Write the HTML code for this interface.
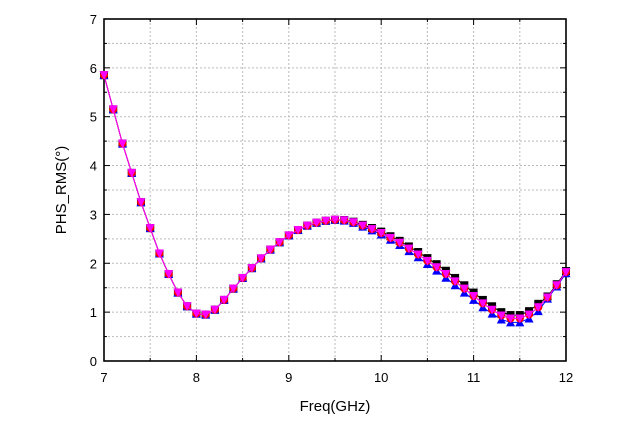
<!DOCTYPE html><html><head><style>body{margin:0;background:#fff}svg{display:block}</style></head><body>
<svg id="s" width="624" height="425" xmlns="http://www.w3.org/2000/svg" font-family="Liberation Sans, Arial, sans-serif"></svg>
<script>
const s=document.getElementById('s');let h='';
const X=v=>104+(v-7)*92.4, Y=v=>361-v*48.86;
// grid
for(let i=1;i<10;i++){const x=X(7+i*0.5);h+=`<line x1="${x}" y1="19" x2="${x}" y2="361" stroke="#bbb" stroke-dasharray="2,2"/>`;}
for(let i=1;i<14;i++){const y=Y(i*0.5);h+=`<line x1="104" y1="${y}" x2="566" y2="${y}" stroke="#bbb" stroke-dasharray="2,2"/>`;}
// ticks
for(let i=0;i<=10;i++){const x=X(7+i*0.5),l=i%2?3:6;h+=`<line x1="${x}" y1="361" x2="${x}" y2="${361-l}" stroke="#000"/><line x1="${x}" y1="19" x2="${x}" y2="${19+l}" stroke="#000"/>`;if(i%2==0)h+=`<text x="${x}" y="382" font-size="13" text-anchor="middle">${7+i/2}</text>`;}
for(let i=0;i<=14;i++){const y=Y(i*0.5),l=i%2?3:6;h+=`<line x1="104" y1="${y}" x2="${104+l}" y2="${y}" stroke="#000"/><line x1="566" y1="${y}" x2="${566-l}" y2="${y}" stroke="#000"/>`;if(i%2==0)h+=`<text x="97" y="${y+5}" font-size="13" text-anchor="end">${i/2}</text>`;}
h+=`<rect x="104" y="19" width="462" height="342" fill="none" stroke="#000" stroke-width="1.6"/>`;
h+=`<text x="335" y="411" font-size="15" text-anchor="middle">Freq(GHz)</text>`;
h+=`<text transform="translate(66,190) rotate(-90)" font-size="15" text-anchor="middle">PHS_RMS(°)</text>`;
const d=[5.85,5.15,4.45,3.85,3.25,2.72,2.2,1.78,1.4,1.12,0.97,0.95,1.05,1.25,1.48,1.7,1.9,2.1,2.28,2.43,2.57,2.68,2.77,2.83,2.87,2.89,2.88,2.84,2.77,2.7,2.62,2.52,2.42,2.3,2.18,2.05,1.92,1.78,1.63,1.48,1.33,1.18,1.05,0.93,0.87,0.87,0.95,1.1,1.3,1.55,1.82];
const off=(i,k)=>{const t=i/50;let w=t>0.75?1:(t>0.5?(t-0.5)*4:0);return k*w;};
const ser=[['#000','sq',0.07],['#00f','up',-0.08],['#f00','ci',0],['#f0f','dn',0]];
for(const [c,m,k] of ser){let p='';const pts=d.map((v,i)=>[X(7+i*0.1),Y(v+off(i,k)*(i>=48?0.3:1))]);
h+=`<polyline fill="none" stroke="${c}" stroke-width="1" points="${pts.map(q=>q.join(',')).join(' ')}"/>`;
for(const [x,y] of pts){if(m=='sq')h+=`<rect x="${x-4}" y="${y-4}" width="8" height="8" fill="${c}"/>`;
else if(m=='ci')h+=`<circle cx="${x}" cy="${y}" r="4" fill="${c}"/>`;
else if(m=='up')h+=`<polygon points="${x-4.5},${y+4} ${x+4.5},${y+4} ${x},${y-4.5}" fill="${c}"/>`;
else h+=`<polygon points="${x-4.5},${y-4} ${x+4.5},${y-4} ${x},${y+4.5}" fill="${c}"/>`;}}
s.innerHTML=h;
</script></body></html>
